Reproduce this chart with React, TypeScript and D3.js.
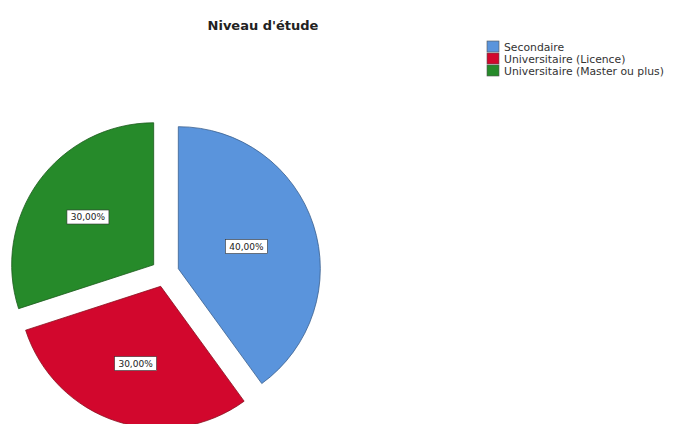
import React from "react";
import * as d3 from "d3";

const categories = ["Secondaire", "Universitaire (Licence)", "Universitaire (Master ou plus)"];
const values = [40, 30, 30];
const labels = ["40,00%", "30,00%", "30,00%"];
const colors = ["#5a94dc", "#d2072d", "#268a2a"];
const strokes = ["#3a5f8e", "#8a1020", "#1b5a1c"];

export default function App() {
  const W = 677, H = 424;
  const cx = 165, cy = 273, R = 142, explode = 14;
  const pie = d3.pie<number>().sort(null).value((d) => d)(values);
  const arc = d3.arc<d3.PieArcDatum<number>>().innerRadius(0).outerRadius(R);
  const font = "'DejaVu Sans', Verdana, sans-serif";
  return (
    <svg width={W} height={H} style={{ position: "absolute", left: 0, top: 0, background: "#fff" }}
      fontFamily={font}>
      <text x={263} y={30} textAnchor="middle" fontSize={13} fontWeight="bold" fill="#222">Niveau d'étude</text>
      {pie.map((p, i) => {
        const mid = (p.startAngle + p.endAngle) / 2;
        const half = (p.endAngle - p.startAngle) / 2;
        const dx = Math.sin(mid) * explode, dy = -Math.cos(mid) * explode;
        const cd = (2 * R * Math.sin(half)) / (3 * half);
        const lx = Math.sin(mid) * cd, ly = -Math.cos(mid) * cd;
        return (
          <g key={i} transform={`translate(${cx + dx},${cy + dy})`}>
            <path d={arc(p) || ""} fill={colors[i]} stroke={strokes[i]} strokeWidth={0.8} />
            <rect x={lx - 21} y={ly - 7} width={42} height={14} fill="#fff" stroke="#333" strokeWidth={0.6} />
            <text x={lx} y={ly + 3.3} textAnchor="middle" fontSize={9} fill="#222">{labels[i]}</text>
          </g>
        );
      })}
      {categories.map((c, i) => (
        <g key={c} transform={`translate(487,${41 + i * 12})`}>
          <rect x={0} y={0} width={12} height={11} fill={colors[i]} stroke="#555" strokeWidth={0.6} />
          <text x={17} y={9.5} fontSize={10.8} fill="#333">{c}</text>
        </g>
      ))}
    </svg>
  );
}
